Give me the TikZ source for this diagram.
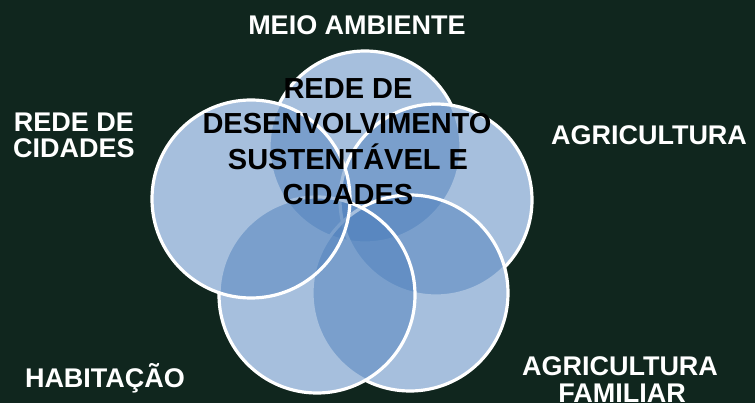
\documentclass[tikz,border=0pt]{standalone}
\usepackage{fontspec}
\setmainfont{Liberation Sans}
\definecolor{bg}{RGB}{16,38,30}
\definecolor{vennblue}{RGB}{79,129,189}
\begin{document}
\begin{tikzpicture}[x=1pt,y=-1pt,
  base/.style={circle,inner sep=0pt,fill=white,draw=none},
  venn/.style={circle,inner sep=0pt,fill=vennblue,fill opacity=0.5,draw=white,draw opacity=1,line width=3.2pt},
  lbl/.style={text=white,font=\fontsize{27}{27}\selectfont\bfseries,anchor=base,inner sep=0pt},
  ctr/.style={text=black,font=\fontsize{29}{29}\selectfont\bfseries,anchor=base,inner sep=0pt}]
\fill[bg] (0,0) rectangle (755,403);
\useasboundingbox (0,0) rectangle (755,403);
% white bases
\node[base,minimum size=192pt] (b1) at (365,147) {};
\node[base,minimum size=192pt] (b2) at (436,200) {};
\node[base,minimum size=196pt] (b3) at (410,293) {};
\node[base,minimum size=196pt] (b4) at (317,295) {};
\node[base,minimum size=198pt] (b5) at (251,199) {};
% circles
\node[venn,minimum size=192pt] (top) at (365,147) {};
\node[venn,minimum size=192pt] (right) at (436,200) {};
\node[venn,minimum size=196pt] (lowright) at (410,293) {};
\node[venn,minimum size=196pt] (lowleft) at (317,295) {};
\node[venn,minimum size=198pt] (left) at (251,199) {};
% outer labels
\node[lbl] (meio) at (357,35) {MEIO AMBIENTE};
\node[lbl] (rede1) at (74,132) {REDE DE};
\node[lbl] (rede2) at (74,158) {CIDADES};
\node[lbl] (agri) at (649,145) {AGRICULTURA};
\node[lbl] (hab) at (105,387) {HABITAÇÃO};
\node[lbl] (agf1) at (620,375) {AGRICULTURA};
\node[lbl] (agf2) at (622,402) {FAMILIAR};
% center text
\node[ctr] (c1) at (348,99) {REDE DE};
\node[ctr] (c2) at (347,134) {DESENVOLVIMENTO};
\node[ctr] (c3) at (348,170) {SUSTENTÁVEL E};
\node[ctr] (c4) at (348,205) {CIDADES};
\end{tikzpicture}
\end{document}
